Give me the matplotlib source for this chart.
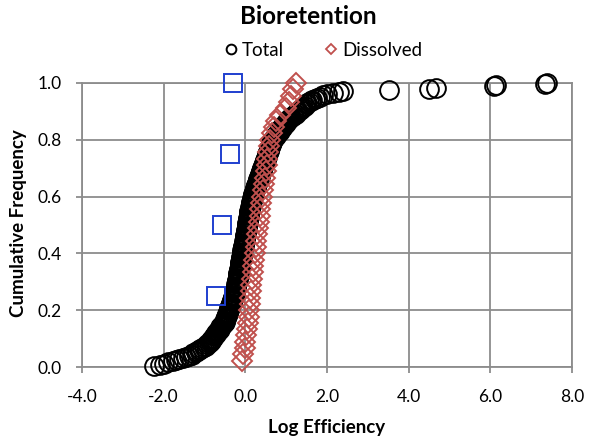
import matplotlib
matplotlib.use("Agg")
import matplotlib.pyplot as plt
from matplotlib.ticker import FormatStrFormatter, MultipleLocator
from matplotlib.lines import Line2D

plt.rcParams["font.family"] = ["Lato", "DejaVu Sans"]
plt.rcParams["axes.unicode_minus"] = False

# Sorted log efficiencies, total concentrations
total_log_eff = [
    -2.23, -2.10, -1.98, -1.90, -1.78, -1.70, -1.62, -1.53, -1.45, -1.38,
    -1.31, -1.27, -1.22, -1.18, -1.14, -1.10, -1.06, -1.01, -0.97, -0.93,
    -0.89, -0.87, -0.85, -0.83, -0.81, -0.79, -0.77, -0.75, -0.73, -0.71,
    -0.69, -0.67, -0.65, -0.63, -0.61, -0.59, -0.57, -0.55, -0.53, -0.51,
    -0.50, -0.49, -0.48, -0.47, -0.46, -0.45, -0.44, -0.43, -0.42, -0.41,
    -0.40, -0.39, -0.38, -0.37, -0.36, -0.35, -0.34, -0.33, -0.32, -0.31,
    -0.30, -0.29, -0.28, -0.28, -0.27, -0.26, -0.26, -0.25, -0.24, -0.24,
    -0.23, -0.23, -0.22, -0.21, -0.21, -0.20, -0.20, -0.19, -0.19, -0.18,
    -0.18, -0.17, -0.17, -0.16, -0.16, -0.15, -0.15, -0.14, -0.14, -0.13,
    -0.13, -0.12, -0.12, -0.11, -0.11, -0.10, -0.10, -0.09, -0.09, -0.08,
    -0.08, -0.07, -0.07, -0.06, -0.06, -0.05, -0.05, -0.04, -0.04, -0.03,
    -0.03, -0.02, -0.02, -0.01, -0.01, 0.00, 0.00, 0.01, 0.01, 0.02,
    0.02, 0.03, 0.03, 0.04, 0.04, 0.05, 0.05, 0.06, 0.06, 0.07,
    0.07, 0.07, 0.08, 0.08, 0.09, 0.09, 0.10, 0.10, 0.11, 0.11,
    0.12, 0.13, 0.13, 0.14, 0.15, 0.15, 0.16, 0.17, 0.17, 0.18,
    0.19, 0.20, 0.20, 0.21, 0.22, 0.23, 0.23, 0.24, 0.25, 0.26,
    0.27, 0.28, 0.29, 0.30, 0.31, 0.32, 0.33, 0.34, 0.35, 0.36,
    0.37, 0.38, 0.39, 0.40, 0.41, 0.42, 0.43, 0.44, 0.45, 0.46,
    0.47, 0.48, 0.49, 0.50, 0.51, 0.52, 0.53, 0.54, 0.55, 0.56,
    0.57, 0.58, 0.59, 0.60, 0.61, 0.62, 0.63, 0.64, 0.65, 0.66,
    0.68, 0.70, 0.72, 0.74, 0.76, 0.78, 0.80, 0.82, 0.84, 0.86,
    0.89, 0.91, 0.93, 0.95, 0.97, 0.99, 1.01, 1.04, 1.06, 1.09,
    1.12, 1.16, 1.19, 1.23, 1.26, 1.29, 1.33, 1.36, 1.39, 1.42,
    1.45, 1.49, 1.52, 1.56, 1.60, 1.64, 1.70, 1.76, 1.83, 1.90,
    2.00, 2.15, 2.30, 2.38, 3.52, 4.50, 4.68, 6.10, 6.13, 7.35,
    7.38,
]

# Sorted log efficiencies, dissolved concentrations
dissolved_log_eff = [
    -0.08, -0.05, -0.02, 0.00, 0.02, 0.04, 0.06, 0.08, 0.09, 0.11,
    0.12, 0.14, 0.15, 0.17, 0.18, 0.20, 0.21, 0.23, 0.25, 0.27,
    0.29, 0.31, 0.33, 0.35, 0.37, 0.39, 0.42, 0.44, 0.46, 0.48,
    0.50, 0.52, 0.54, 0.55, 0.57, 0.60, 0.65, 0.70, 0.75, 0.85,
    1.00, 1.08, 1.13, 1.17, 1.25,
]

# Quartile points
quartile_log_eff = [-0.73, -0.56, -0.37, -0.29]
quartile_freq = [0.25, 0.50, 0.75, 1.00]


def cumulative_frequency(values):
    n = len(values)
    return [(i + 1) / n for i in range(n)]


total_freq = cumulative_frequency(total_log_eff)
dissolved_freq = cumulative_frequency(dissolved_log_eff)

GRID = "#8c8c8c"
RED = "#c0504d"
BLUE = "#1f3fcf"

fig = plt.figure(figsize=(5.89, 4.42), dpi=100)
ax = fig.add_axes([82 / 589, 1 - 367 / 442, 490 / 589, 284 / 442])

ax.plot(total_log_eff, total_freq, linestyle="none", marker="o",
        markersize=13.5, markerfacecolor="none", markeredgecolor="black",
        markeredgewidth=1.4, clip_on=False, zorder=3)
ax.plot(dissolved_log_eff, dissolved_freq, linestyle="none", marker="D",
        markersize=10.0, markerfacecolor="none", markeredgecolor=RED,
        markeredgewidth=1.4, clip_on=False, zorder=4)
ax.plot(quartile_log_eff, quartile_freq, linestyle="none", marker="s",
        markersize=13, markerfacecolor="none", markeredgecolor=BLUE,
        markeredgewidth=1.4, clip_on=False, zorder=5)

ax.set_xlim(-4, 8)
ax.set_ylim(0, 1)
ax.xaxis.set_major_locator(MultipleLocator(2))
ax.yaxis.set_major_locator(MultipleLocator(0.2))
ax.xaxis.set_major_formatter(FormatStrFormatter("%.1f"))
ax.yaxis.set_major_formatter(FormatStrFormatter("%.1f"))
ax.grid(True, color=GRID, linewidth=1.3, zorder=0)
ax.set_axisbelow(True)
for side in ax.spines.values():
    side.set_color(GRID)
    side.set_linewidth(1.3)
ax.tick_params(axis="both", direction="out", length=4.5, width=1.3,
               color=GRID, labelsize=12.5, labelcolor="black")
ax.tick_params(axis="x", pad=11)
ax.tick_params(axis="y", pad=10)

fig.text(308 / 589, 1 - 17 / 442, "Bioretention", ha="center", va="center",
         fontsize=17.5, fontweight="bold")
fig.text(19 / 589, 1 - 223 / 442, "Cumulative Frequency", ha="center",
         va="center", rotation=90, fontsize=13.5, fontweight="bold")
fig.text(327 / 589, 1 - 428 / 442, "Log Efficiency", ha="center",
         va="center", fontsize=13.5, fontweight="bold")

handles = [
    Line2D([], [], linestyle="none", marker="o", markersize=7,
           markerfacecolor="none", markeredgecolor="black",
           markeredgewidth=1.4),
    Line2D([], [], linestyle="none", marker="D", markersize=5,
           markerfacecolor="none", markeredgecolor=RED, markeredgewidth=1.3),
]
fig.legend(handles, ["Total", "Dissolved"], loc="center",
           bbox_to_anchor=(322 / 589, 1 - 50 / 442), ncol=2, frameon=False,
           fontsize=13.5, handletextpad=0.1, columnspacing=2.0,
           handlelength=1.0)

fig.savefig("out.png", dpi=100)
